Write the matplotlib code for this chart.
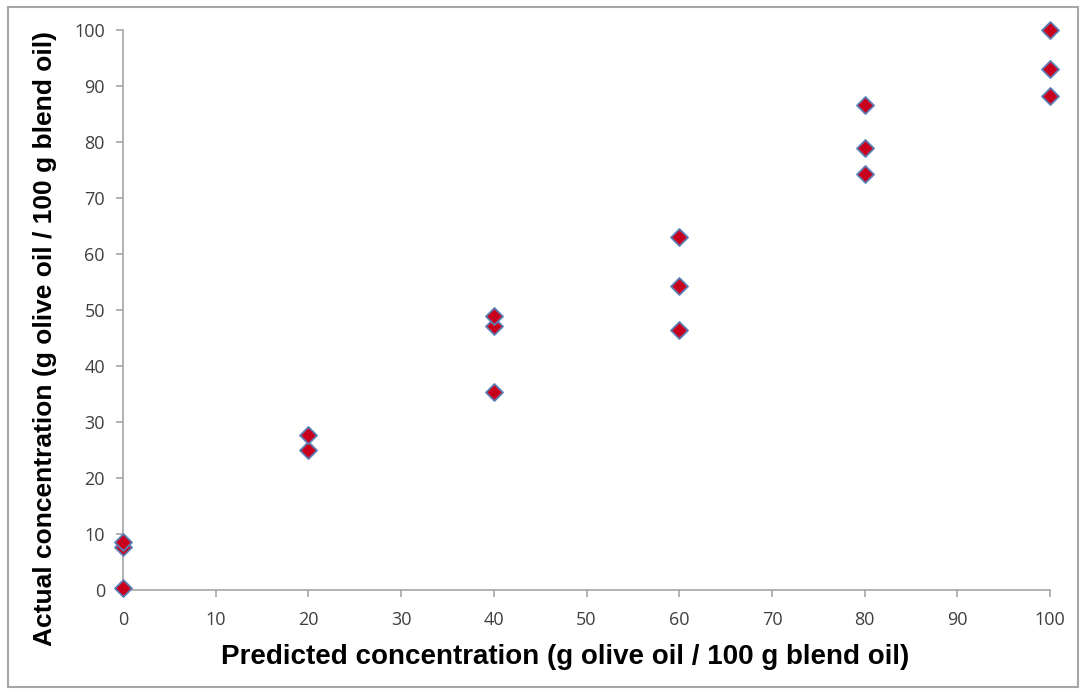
import matplotlib.pyplot as plt
from matplotlib.patches import Rectangle

# predicted vs actual concentration (g olive oil / 100 g blend oil)
predicted = [0, 0, 0, 20, 20, 40, 40, 40, 60, 60, 60, 80, 80, 80, 100, 100, 100]
actual = [0.4, 7.7, 8.5, 25.0, 27.6, 35.4, 47.1, 49.0, 46.4, 54.3, 63.0, 74.2, 78.9, 86.6, 88.2, 93.0, 100.0]

xticks = list(range(0, 101, 10))
yticks = list(range(0, 101, 10))

fig = plt.figure(figsize=(10.83, 6.93), dpi=100)
ax = fig.add_axes([0.1136, 0.1486, 0.856, 0.8081])

ax.scatter(predicted, actual, marker='D', s=75, facecolor='#c8001e',
           edgecolor='#5b7fb5', linewidth=1.3, zorder=3, clip_on=False)

ax.set_xlim(0, 100)
ax.set_ylim(0, 100)
ax.set_xticks(xticks)
ax.set_yticks(yticks)

for side in ['top', 'right']:
    ax.spines[side].set_visible(False)
for side in ['left', 'bottom']:
    ax.spines[side].set_color('#a6a6a6')
    ax.spines[side].set_linewidth(1.2)
ax.tick_params(direction='out', length=5, width=1.2, color='#a6a6a6',
               labelsize=13, labelcolor='#404040')
ax.tick_params(axis='x', pad=10)
ax.tick_params(axis='y', pad=8)
for lbl in ax.get_xticklabels() + ax.get_yticklabels():
    lbl.set_family('Open Sans')

ax.set_xlabel('Predicted concentration (g olive oil / 100 g blend oil)',
              fontsize=20, fontweight='bold', family='Liberation Sans', va='center')
ax.set_ylabel('Actual concentration (g olive oil / 100 g blend oil)',
              fontsize=19, fontweight='bold', family='Liberation Sans', va='center')
ax.xaxis.set_label_coords(0.4768, -0.1196)
ax.yaxis.set_label_coords(-0.0841, 0.4485)

# thin grey frame around the whole chart
fig.patches.append(Rectangle((0.007, 0.008), 0.988, 0.982, transform=fig.transFigure,
                             fill=False, edgecolor='#a6a6a6', linewidth=1.5))

fig.savefig('out.png', dpi=100)
